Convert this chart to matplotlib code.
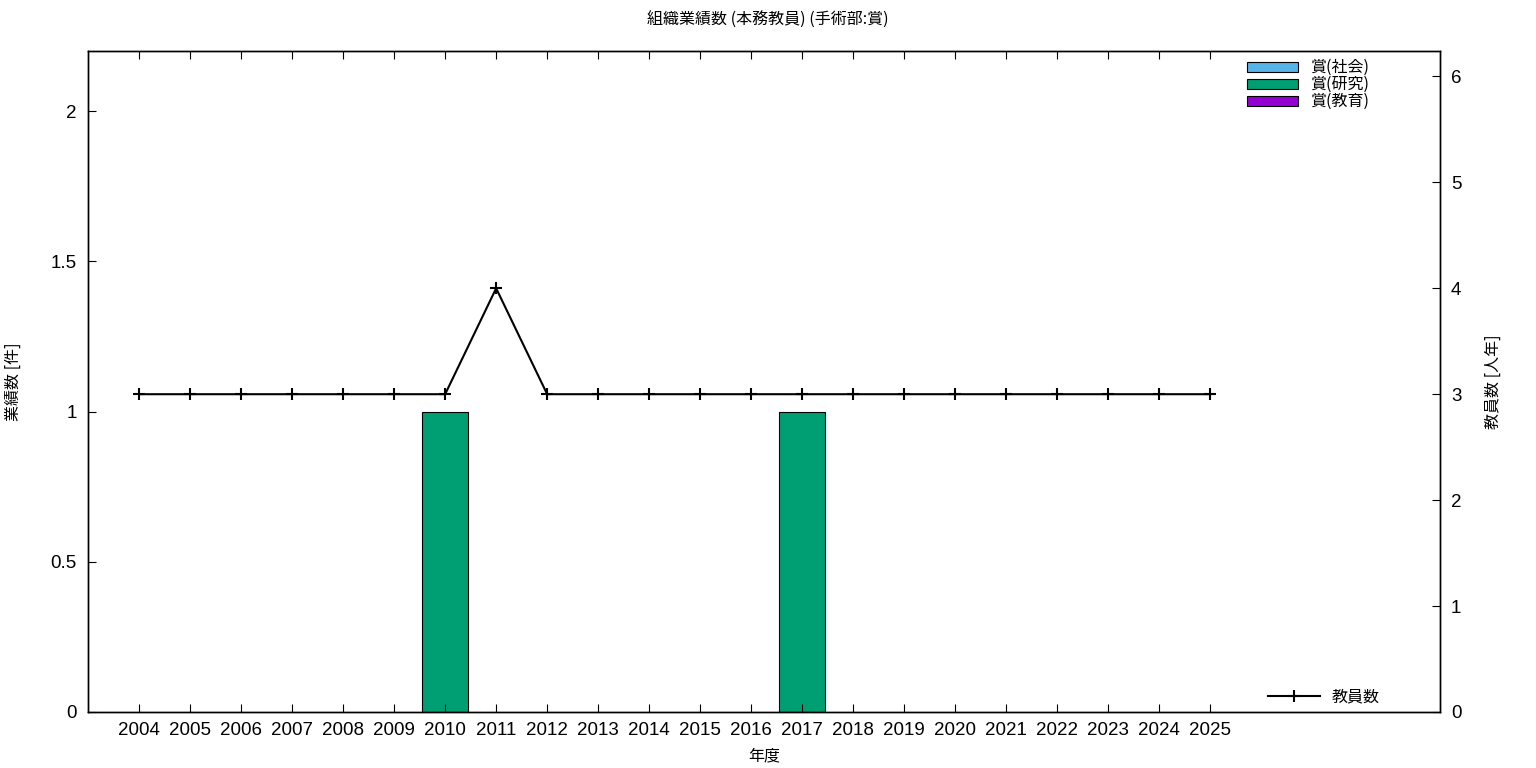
import matplotlib
matplotlib.use("Agg")
import matplotlib.pyplot as plt
import numpy as np

plt.rcParams['font.family'] = ['Noto Sans CJK JP', 'DejaVu Sans']

years = [str(y) for y in range(2004, 2026)]
award_social = [0] * 22
award_research = [0, 0, 0, 0, 0, 0, 1, 0, 0, 0, 0, 0, 0, 1, 0, 0, 0, 0, 0, 0, 0, 0]
award_education = [0] * 22
staff = [3, 3, 3, 3, 3, 3, 3, 4, 3, 3, 3, 3, 3, 3, 3, 3, 3, 3, 3, 3, 3, 3]

x = np.arange(len(years))

fig = plt.figure(figsize=(15.36, 7.68), dpi=100)
ax = fig.add_axes([88/1536, 1 - 712/768, (1440-88)/1536, (712-51)/768])
ax2 = ax.twinx()

# stacked bars
b1 = ax.bar(x, award_social, width=0.9, color='#56b4e9', edgecolor='black', linewidth=0.8, label='賞(社会)')
b2 = ax.bar(x, award_research, width=0.9, bottom=award_social, color='#009e73',
            edgecolor='black', linewidth=0.8, label='賞(研究)')
bottom2 = np.array(award_social) + np.array(award_research)
b3 = ax.bar(x, award_education, width=0.9, bottom=bottom2, color='#9400d3',
            edgecolor='black', linewidth=0.8, label='賞(教育)')
# hide zero-height bars
for bars, vals in [(b1, award_social), (b2, award_research), (b3, award_education)]:
    for rect, v in zip(bars, vals):
        if v == 0:
            rect.set_visible(False)

ln, = ax2.plot(x, staff, color='black', linewidth=1.5, marker='+', markersize=8,
               markeredgewidth=1.5, label='教員数')

ax.set_xlim(-1, 25.5)
ax.set_ylim(0, 2.2)
ax2.set_ylim(0, 6.24)
ax.set_xticks(x)
ax.set_xticklabels(years)
ax.set_yticks([0, 0.5, 1, 1.5, 2])
ax.set_yticklabels(['0', '0.5', '1', '1.5', '2'])
ax2.set_yticks(range(7))

ax.tick_params(axis='x', direction='in', top=True, length=6, pad=7)
ax.tick_params(axis='y', direction='in', length=6, pad=8)
ax2.tick_params(axis='y', direction='in', length=6, pad=8)
for lab in ax.get_xticklabels() + ax.get_yticklabels() + ax2.get_yticklabels():
    lab.set_family(['Liberation Sans', 'DejaVu Sans'])
    lab.set_fontsize(13.5)
for a in (ax, ax2):
    for s in a.spines.values():
        s.set_linewidth(1.0)

ax.set_xlabel('年度', fontsize=11.5, labelpad=6)
ax.set_ylabel('業績数 [件]', fontsize=11.5)
ax2.set_ylabel('教員数 [人年]', fontsize=11.5)
ax.yaxis.set_label_coords(-0.0488, 0.5)
ax2.yaxis.set_label_coords(1.0333, 0.5)
fig.suptitle('組織業績数 (本務教員) (手術部:賞)', fontsize=11.5, y=0.985)

leg1 = ax2.legend(handles=[b1, b2, b3], loc='upper left', bbox_to_anchor=(0.857, 0.9875),
                  frameon=False, fontsize=11.5, handlelength=3.2, handleheight=0.6,
                  labelspacing=0.0, handletextpad=0.75, borderpad=0.0, borderaxespad=0.0)
for p in leg1.get_patches():
    p.set_visible(True)
ax2.add_artist(leg1)
ax2.legend(handles=[ln], loc='center left', bbox_to_anchor=(0.8728, 0.0227), frameon=False,
           fontsize=11.5, handlelength=3.25, handletextpad=0.75, borderpad=0.0, borderaxespad=0.0)

fig.savefig('out.png', dpi=100)
